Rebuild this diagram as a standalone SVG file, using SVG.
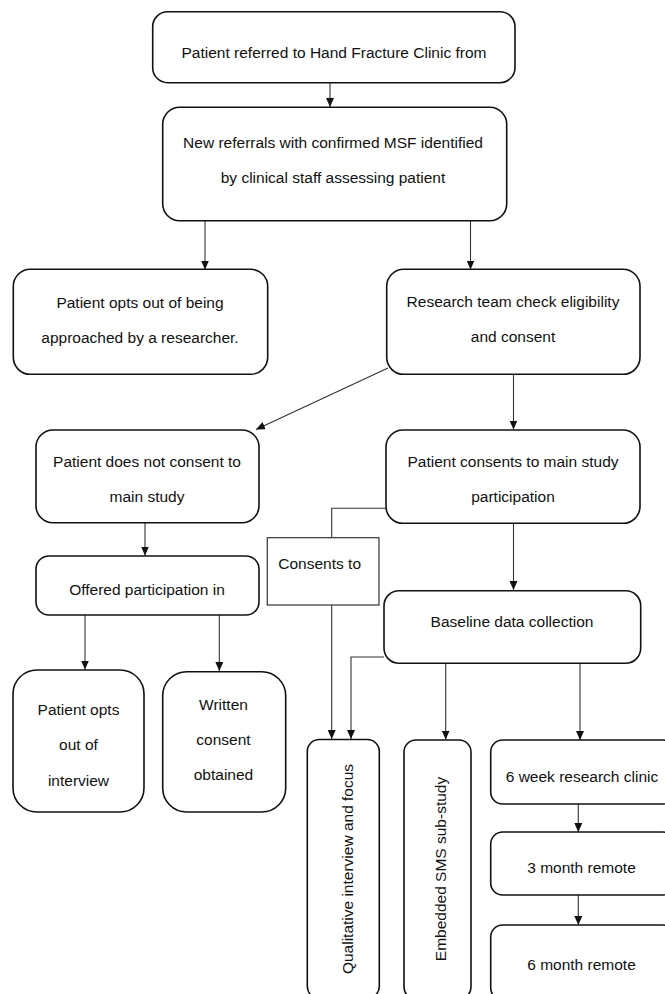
<svg xmlns="http://www.w3.org/2000/svg" width="665" height="994" viewBox="0 0 665 994">
<style>
.box{fill:#fff;stroke:#111;stroke-width:1.6}
.sq{fill:#fff;stroke:#333;stroke-width:1.2}
.t{font-family:"Liberation Sans",Arial,sans-serif;font-size:15.5px;fill:#111;text-anchor:middle}
.c{fill:none;stroke:#333;stroke-width:1.1}
</style>
<defs>
<marker id="ah" viewBox="0 0 10 10" refX="10" refY="5" markerUnits="userSpaceOnUse" markerWidth="9" markerHeight="8" orient="auto" preserveAspectRatio="none">
<path d="M0,0 L10,5 L0,10 z" fill="#111"/>
</marker>
</defs>
<rect width="665" height="994" fill="#fff"/>
<g id="connectors">
<path class="c" d="M330,83 V107" marker-end="url(#ah)"/>
<path class="c" d="M205,220.7 V269.5" marker-end="url(#ah)"/>
<path class="c" d="M470.5,220.7 V269.5" marker-end="url(#ah)"/>
<path class="c" d="M388,368 L256,429.5" marker-end="url(#ah)"/>
<path class="c" d="M513.5,374.3 V429.5" marker-end="url(#ah)"/>
<path class="c" d="M145,523 V555.5" marker-end="url(#ah)"/>
<path class="c" d="M386.5,508.3 H331.7 V537.7"/>
<path class="c" d="M331.7,605 V739" marker-end="url(#ah)"/>
<path class="c" d="M513.5,523.3 V590" marker-end="url(#ah)"/>
<path class="c" d="M85,615 V669.5" marker-end="url(#ah)"/>
<path class="c" d="M219.3,615 V671" marker-end="url(#ah)"/>
<path class="c" d="M384,657 H351 V739" marker-end="url(#ah)"/>
<path class="c" d="M445.7,663.3 V739.5" marker-end="url(#ah)"/>
<path class="c" d="M580,663.3 V740" marker-end="url(#ah)"/>
<path class="c" d="M578.3,804 V832" marker-end="url(#ah)"/>
<path class="c" d="M578.3,895 V925" marker-end="url(#ah)"/>
</g>
<g id="n1">
<rect class="box" x="152.7" y="11.7" width="362.3" height="71" rx="15"/>
<text class="t" x="334" y="58">Patient referred to Hand Fracture Clinic from</text>
</g>
<g id="n2">
<rect class="box" x="162.7" y="107.3" width="344" height="113.4" rx="17"/>
<text class="t" x="333" y="147.7">New referrals with confirmed MSF identified</text>
<text class="t" x="333" y="182.7">by clinical staff assessing patient</text>
</g>
<g id="n3">
<rect class="box" x="13.3" y="269.3" width="254.4" height="105" rx="17"/>
<text class="t" x="140" y="308">Patient opts out of being</text>
<text class="t" x="140" y="342.7">approached by a researcher.</text>
</g>
<g id="n4">
<rect class="box" x="386.7" y="269.3" width="253.3" height="105" rx="17"/>
<text class="t" x="513" y="306.7">Research team check eligibility</text>
<text class="t" x="513" y="341.7">and consent</text>
</g>
<g id="n5">
<rect class="box" x="36" y="430" width="223" height="92.7" rx="17"/>
<text class="t" x="147" y="466.7">Patient does not consent to</text>
<text class="t" x="147" y="501.7">main study</text>
</g>
<g id="n6">
<rect class="box" x="386" y="430" width="254" height="93.3" rx="17"/>
<text class="t" x="513" y="466.7">Patient consents to main study</text>
<text class="t" x="513" y="501.7">participation</text>
</g>
<g id="n7">
<rect class="box" x="36" y="556" width="223" height="59" rx="13"/>
<text class="t" x="147" y="595">Offered participation in</text>
</g>
<g id="consents">
<rect class="sq" x="267.3" y="537.7" width="111.7" height="67.3"/>
<text class="t" x="278.3" y="569" style="text-anchor:start">Consents to</text>
</g>
<g id="n8">
<rect class="box" x="384" y="590.7" width="256.7" height="72.6" rx="15"/>
<text class="t" x="512" y="626.7">Baseline data collection</text>
</g>
<g id="n9">
<rect class="box" x="13" y="670" width="131" height="142" rx="24"/>
<text class="t" x="78.5" y="715">Patient opts</text>
<text class="t" x="78.5" y="750">out of</text>
<text class="t" x="78.5" y="785.7">interview</text>
</g>
<g id="n10">
<rect class="box" x="162.7" y="671.7" width="123" height="140.3" rx="24"/>
<text class="t" x="223.5" y="710">Written</text>
<text class="t" x="223.5" y="745">consent</text>
<text class="t" x="223.5" y="780">obtained</text>
</g>
<g id="n11">
<rect class="box" x="307.3" y="739.5" width="72" height="259" rx="12"/>
<text class="t" transform="translate(352.5,869) rotate(-90)">Qualitative interview and focus</text>
</g>
<g id="n12">
<rect class="box" x="404" y="740" width="67" height="259" rx="12"/>
<text class="t" transform="translate(445.5,869) rotate(-90)">Embedded SMS sub-study</text>
</g>
<g id="n13">
<rect class="box" x="490.7" y="740" width="184" height="64" rx="12"/>
<text class="t" x="582" y="781.7">6 week research clinic</text>
</g>
<g id="n14">
<rect class="box" x="490.7" y="832" width="184" height="63" rx="12"/>
<text class="t" x="581.5" y="873.3">3 month remote</text>
</g>
<g id="n15">
<rect class="box" x="490.7" y="925" width="184" height="75" rx="12"/>
<text class="t" x="581.5" y="970">6 month remote</text>
</g>
</svg>
